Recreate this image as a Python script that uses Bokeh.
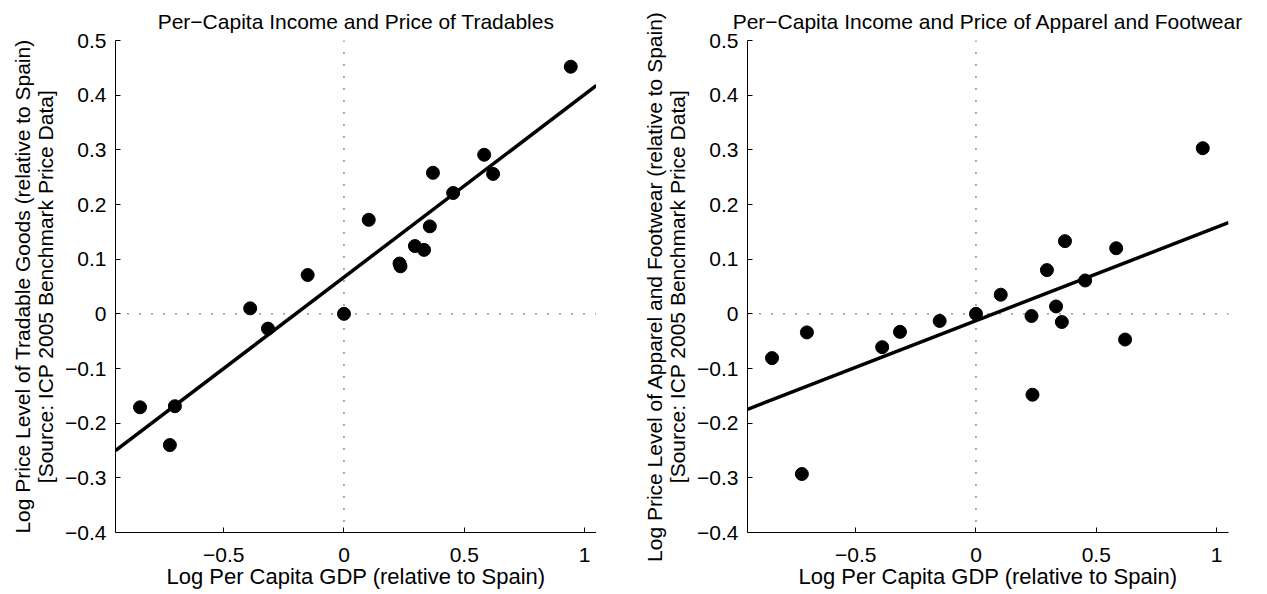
from bokeh.plotting import figure
from bokeh.layouts import row
from bokeh.models import Span, FixedTicker, Range1d, ColumnDataSource, Spacer
from bokeh.embed import file_html
from bokeh.resources import INLINE

# ---- data ----
log_gdp = [-0.848, -0.724, -0.703, -0.390, -0.316, -0.151, 0.0, 0.103, 0.231,
           0.235, 0.295, 0.333, 0.357, 0.370, 0.454, 0.583, 0.620, 0.943]
log_price_tradables = [-0.171, -0.240, -0.169, 0.010, -0.027, 0.071, 0.0, 0.172, 0.092,
                       0.087, 0.124, 0.117, 0.160, 0.258, 0.221, 0.291, 0.256, 0.452]
log_price_apparel = [-0.081, -0.293, -0.034, -0.061, -0.033, -0.013, 0.0, 0.035, -0.004,
                     -0.148, 0.080, 0.0135, -0.015, 0.133, 0.061, 0.120, -0.047, 0.303]

# fitted lines (intercept, slope)
fit_tradables = (0.067, 0.334)
fit_apparel = (-0.0125, 0.1707)

x_limits = [-0.95, 1.05]
y_limits = [-0.4, 0.5]
x_ticks = [-0.5, 0, 0.5, 1]
x_tick_labels = ["\u22120.5", "0", "0.5", "1"]
y_ticks = [-0.4, -0.3, -0.2, -0.1, 0, 0.1, 0.2, 0.3, 0.4, 0.5]
y_tick_labels = ["\u22120.4", "\u22120.3", "\u22120.2", "\u22120.1", "0",
                 "0.1", "0.2", "0.3", "0.4", "0.5"]

titles = ["Per\u2212Capita Income and Price of Tradables",
          "Per\u2212Capita Income and Price of Apparel and Footwear"]
x_label = "Log Per Capita GDP (relative to Spain)"
y_labels = ["Log Price Level of Tradable Goods (relative to Spain)\n[Source: ICP 2005 Benchmark Price Data]",
            "Log Price Level of Apparel and Footwear (relative to Spain)\n[Source: ICP 2005 Benchmark Price Data]"]

FONT = "Liberation Sans"


def panel(title, ylabel, yvals, fit, border_right):
    p = figure(frame_width=481, frame_height=492,
               x_range=Range1d(*x_limits), y_range=Range1d(*y_limits),
               output_backend="svg", toolbar_location=None,
               min_border_left=0, min_border_right=border_right,
               min_border_top=32, min_border_bottom=50,
               background_fill_color="white", border_fill_color="white")
    p.outline_line_color = None
    p.grid.visible = False

    p.title.text = title
    p.title.align = "center"
    p.title.text_font = FONT
    p.title.text_font_size = "21px"
    p.title.text_font_style = "normal"
    p.title.text_color = "black"
    p.title.standoff = 15

    p.xaxis.ticker = FixedTicker(ticks=x_ticks)
    p.xaxis.major_label_overrides = dict(zip(x_ticks, x_tick_labels))
    p.yaxis.ticker = FixedTicker(ticks=y_ticks)
    p.yaxis.major_label_overrides = dict(zip(y_ticks, y_tick_labels))

    for ax in (p.xaxis, p.yaxis):
        ax.axis_line_color = "black"
        ax.axis_line_width = 1
        ax.major_tick_in = 5
        ax.major_tick_out = 0
        ax.major_tick_line_color = "black"
        ax.minor_tick_line_color = None
        ax.major_label_text_font = FONT
        ax.major_label_text_font_size = "21px"
        ax.major_label_text_color = "black"
        ax.axis_label_text_font = FONT
        ax.axis_label_text_font_style = "normal"
        ax.axis_label_text_color = "black"

    p.xaxis.axis_label = x_label
    p.xaxis.axis_label_text_font_size = "22px"
    p.xaxis.major_label_standoff = 15
    p.xaxis.axis_label_standoff = -1
    p.yaxis.axis_label = ylabel
    p.yaxis.axis_label_text_font_size = "21px"
    p.yaxis.major_label_standoff = 9
    p.yaxis.axis_label_standoff = 5
    p.yaxis.axis_label_text_line_height = 1.0

    p.add_layout(Span(location=0, dimension="height", line_color="black",
                      line_width=1.3, line_dash="1 11"))
    p.add_layout(Span(location=0, dimension="width", line_color="black",
                      line_width=1.3, line_dash="1 11"))

    src = ColumnDataSource(data=dict(x=log_gdp, y=yvals))
    p.scatter("x", "y", source=src, marker="circle", size=13,
              fill_color="black", line_color="black")

    a, b = fit
    xf = list(x_limits)
    yf = [a + b * v for v in xf]
    p.line(xf, yf, line_width=3.5, line_color="black")
    return p


p1 = panel(titles[0], y_labels[0], log_price_tradables, fit_tradables, 0)
p2 = panel(titles[1], y_labels[1], log_price_apparel, fit_apparel, 15)

layout = row(Spacer(width=8), p1, Spacer(width=44), p2)
open("out.html", "w").write(file_html(layout, INLINE))
